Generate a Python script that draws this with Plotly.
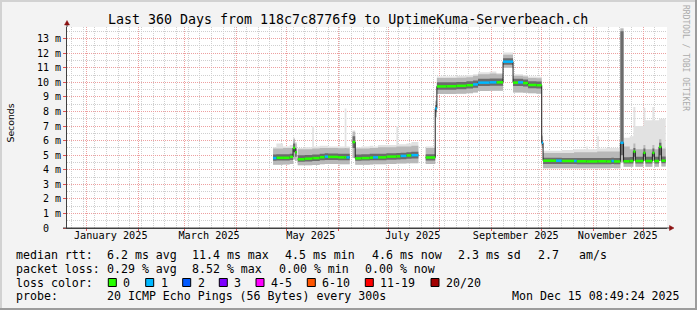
import plotly.graph_objects as go
import pandas as pd

# ---------------- data ----------------
# time of each sample, in days after 2025-01-01 00:00 ; None in median marks a gap / end
day_offset = [112.0, 114.0, 118.0, 122.0, 124.0, 125.2, 126.2, 126.8, 131.0, 135.5,
              136.5, 140.0, 143.0, 145.0, 151.0, 155.0, 156.0, 158.0, 159.7, 161.3,
              165.0, 170.0, 172.0, 175.0, 180.0, 186.0, 187.0, 188.5, 192.0, 195.0,
              199.2, 203.6, 209.3, 210.3, 216.0, 222.0, 228.0, 232.0, 235.0, 242.0,
              246.0, 250.0, 256.0, 259.0, 262.0, 265.0, 270.0, 273.2, 274.0, 281.8,
              285.2, 292.6, 294.2, 300.0, 301.0, 306.5, 307.5, 312.0, 315.0, 316.5,
              320.4, 322.3, 326.0, 328.2, 329.4, 334.2, 335.4, 339.6, 340.8, 343.6,
              345.0, 347.6]
median_ms = [4.80, 4.82, 4.82, 4.88, 5.50, 5.20, None, 4.72, 4.76, 4.80,
             4.80, 4.86, 4.90, 4.88, 4.85, 4.85, 4.85, None, 5.90, 4.78,
             4.80, 4.83, 4.85, 4.85, 4.90, 4.92, 4.92, 4.95, 4.98, 5.00,
             None, 4.84, 8.20, 9.72, 9.73, 9.76, 9.80, 9.86, 9.98, 10.00,
             10.00, 11.42, 9.98, 10.00, 9.95, 9.82, 9.80, 5.85, 4.62, 4.62,
             4.60, 4.60, 4.58, 4.57, 4.57, 4.58, 4.58, 4.57, 4.60, 4.57,
             5.85, 4.58, 4.60, 5.25, 4.60, 5.16, 4.60, 5.16, 4.60, 5.57,
             4.62, None]
loss_idx = [1, 0, 0, 0, 0, 0, 0, 0, 0, 0,
            0, 0, 1, 0, 0, 0, 1, 0, 0, 0,
            0, 0, 1, 0, 0, 0, 0, 1, 0, 1,
            0, 0, 1, 0, 0, 0, 0, 1, 1, 1,
            0, 1, 0, 1, 0, 0, 0, 1, 0, 1,
            0, 1, 0, 0, 0, 0, 0, 0, 1, 0,
            1, 0, 0, 0, 0, 0, 0, 0, 0, 0,
            0, 0]
smoke_lo = [4.35, 4.35, 4.36, 4.40, 4.70, 4.60, None, 4.30, 4.30, 4.33,
            4.33, 4.38, 4.40, 4.40, 4.38, 4.38, 4.38, None, 4.80, 4.35,
            4.35, 4.36, 4.38, 4.38, 4.40, 4.42, 4.42, 4.42, 4.45, 4.45,
            None, 4.40, 7.60, 9.20, 9.20, 9.22, 9.25, 9.30, 9.40, 9.42,
            9.42, 11.00, 9.30, 9.30, 9.28, 9.25, 9.22, 5.50, 4.10, 4.10,
            4.10, 4.10, 4.10, 4.10, 4.10, 4.10, 4.10, 4.10, 4.12, 4.10,
            4.50, 4.20, 4.20, 4.60, 4.20, 4.60, 4.20, 4.60, 4.20, 4.60,
            4.22, None]
smoke_q1 = [4.62, 4.63, 4.63, 4.67, 5.20, 4.90, None, 4.55, 4.57, 4.60,
            4.60, 4.65, 4.67, 4.67, 4.65, 4.65, 4.65, None, 5.50, 4.62,
            4.63, 4.65, 4.65, 4.65, 4.69, 4.71, 4.71, 4.72, 4.75, 4.77,
            None, 4.63, 7.95, 9.50, 9.50, 9.53, 9.57, 9.63, 9.75, 9.77,
            9.77, 11.20, 9.75, 9.75, 9.71, 9.60, 9.58, 5.70, 4.40, 4.40,
            4.39, 4.39, 4.38, 4.37, 4.37, 4.38, 4.38, 4.37, 4.39, 4.37,
            5.00, 4.42, 4.43, 4.90, 4.43, 4.90, 4.43, 4.90, 4.43, 5.00,
            4.45, None]
smoke_q3 = [5.05, 5.07, 5.07, 5.10, 5.80, 5.45, None, 5.00, 5.01, 5.05,
            5.05, 5.10, 5.13, 5.11, 5.09, 5.09, 5.09, None, 6.30, 5.05,
            5.07, 5.09, 5.10, 5.10, 5.13, 5.15, 5.15, 5.17, 5.20, 5.23,
            None, 5.07, 8.45, 10.00, 10.01, 10.03, 10.07, 10.13, 10.25, 10.27,
            10.27, 11.65, 10.25, 10.25, 10.20, 10.07, 10.05, 6.00, 4.83, 4.83,
            4.81, 4.81, 4.80, 4.80, 4.80, 4.81, 4.81, 4.80, 4.83, 4.80,
            13.50, 4.85, 4.87, 5.50, 4.90, 5.45, 4.90, 5.45, 4.90, 5.85,
            4.91, None]
smoke_hi = [5.45, 5.45, 5.50, 5.50, 6.10, 5.80, None, 5.40, 5.40, 5.45,
            5.45, 5.50, 5.50, 5.50, 5.48, 5.50, 5.48, None, 6.60, 5.45,
            5.45, 5.50, 5.50, 5.55, 5.55, 5.60, 5.60, 5.60, 5.60, 5.65,
            None, 5.50, 8.70, 10.30, 10.30, 10.32, 10.35, 10.45, 10.55, 10.60,
            10.55, 11.90, 10.45, 10.45, 10.40, 10.30, 10.28, 6.30, 5.15, 5.15,
            5.15, 5.20, 5.20, 5.20, 5.20, 5.25, 5.25, 5.25, 5.25, 5.25,
            13.70, 5.60, 5.40, 5.80, 5.40, 5.70, 5.40, 5.70, 5.40, 6.10,
            5.45, None]
smoke_top = [5.55, 5.80, 5.60, 5.70, 6.20, 5.90, None, 5.50, 5.55, 7.00,
             5.60, 5.65, 5.65, 5.60, 5.60, 8.20, 5.60, None, 6.70, 5.55,
             5.60, 5.65, 5.60, 5.70, 5.70, 7.00, 5.75, 5.75, 5.80, 5.90,
             None, 5.60, 8.80, 10.40, 10.40, 10.45, 10.50, 10.55, 10.70, 10.75,
             10.65, 12.05, 10.55, 10.55, 10.50, 10.40, 10.38, 6.40, 5.30, 5.30,
             5.35, 5.40, 5.40, 5.60, 5.40, 6.30, 5.45, 5.50, 5.50, 5.50,
             13.75, 6.20, 6.30, 8.30, 7.00, 8.25, 7.40, 8.30, 7.40, 7.50,
             7.50, None]

loss_labels = ["0", "1", "2", "3", "4-5", "6-10", "11-19", "20/20"]
loss_colors = ["#26ff00", "#00b8ff", "#0059ff", "#7e00ff", "#ff00ff", "#ff5500", "#ff0000", "#a10000"]

month_label_text = ["January 2025", "March 2025", "May 2025", "July 2025", "September 2025", "November 2025"]
month_label_day = [14.6, 73.6, 134.65, 195.8, 257.65, 318.8]

y_tick_vals = list(range(14))
y_tick_text = ["0\u00a0\u00a0"] + [f"{v} m" for v in range(1, 14)]

title_text = "Last 360 Days from 118c7c8776f9 to UptimeKuma-Serverbeach.ch"
rtt_stats = [("median rtt:", 16), ("6.2 ms avg", 107), ("11.4 ms max", 192.3), ("4.5 ms min", 285.3),
             ("4.6 ms now", 371.6), ("2.3 ms sd", 458), ("2.7", 538), ("am/s", 579)]
loss_stats = [("packet loss:", 16), ("0.29 % avg", 107), ("8.52 % max", 192.3),
              ("0.00 % min", 279), ("0.00 % now", 365)]
probe_text = "20 ICMP Echo Pings (56 Bytes) every 300s"
stamp_text = "Mon Dec 15 08:49:24 2025"

# ---------------- helpers ----------------
BASE = pd.Timestamp("2025-01-01")
X_END = pd.Timestamp("2025-12-15 08:49:24")
X_START = X_END - pd.Timedelta(days=360)


def ts(d):
    return BASE + pd.Timedelta(days=d)


W, H = 697, 310
ML, MR, MT, MB = 67, 30, 27, 82
PW, PH = W - ML - MR, H - MT - MB


def px(x):
    return (x - ML) / PW


def py(y):
    return (H - MB - y) / PH


MONO = "DejaVu Sans Mono"

fig = go.Figure()

# ---------------- smoke + median ----------------
segments = []
cur = []
for i, m in enumerate(median_ms):
    if m is None:
        if cur:
            segments.append((cur, day_offset[i]))
        cur = []
    else:
        cur.append(i)

bands = [(smoke_lo, smoke_top, "#e2e2e2"),
         (smoke_lo, smoke_hi, "#b8b8b8"),
         (smoke_q1, smoke_q3, "#6c6c6c")]

med_x, med_y = [], []
col_x = {k: [] for k in range(len(loss_colors))}
col_y = {k: [] for k in range(len(loss_colors))}

for idxs, t_end in segments:
    xs = [ts(day_offset[i]) for i in idxs] + [ts(t_end)]

    def vals(arr):
        return [arr[i] for i in idxs] + [arr[idxs[-1]]]

    for lo_arr, hi_arr, col in bands:
        fig.add_trace(go.Scatter(x=xs, y=vals(lo_arr), mode="lines",
                                 line=dict(width=0, shape="hv"), hoverinfo="skip", showlegend=False))
        fig.add_trace(go.Scatter(x=xs, y=vals(hi_arr), mode="lines", fill="tonexty", fillcolor=col,
                                 line=dict(width=0, shape="hv"), hoverinfo="skip", showlegend=False))
    med_x += xs + [None]
    med_y += vals(median_ms) + [None]
    for j, i in enumerate(idxs):
        t_next = day_offset[idxs[j + 1]] if j + 1 < len(idxs) else t_end
        k = loss_idx[i]
        col_x[k] += [ts(day_offset[i]), ts(t_next), None]
        col_y[k] += [median_ms[i], median_ms[i], None]

fig.add_trace(go.Scatter(x=med_x, y=med_y, mode="lines", line=dict(color="#202020", width=1, shape="hv"),
                         hoverinfo="skip", showlegend=False))
for k, col in enumerate(loss_colors):
    if col_x[k]:
        fig.add_trace(go.Scatter(x=col_x[k], y=col_y[k], mode="lines", line=dict(color=col, width=2.5),
                                 hoverinfo="skip", showlegend=False))

# empty trace so the label axis (x2) is drawn
fig.add_trace(go.Scatter(x=[X_START, X_END], y=[None, None], xaxis="x2", yaxis="y", mode="lines",
                         hoverinfo="skip", showlegend=False))

# ---------------- axes ----------------
RED = "#eda0a0"
GRAY = "#cfcfcf"
month_starts = pd.date_range("2025-01-01", "2025-12-01", freq="MS")
week_lines = pd.date_range("2024-12-23", "2025-12-15", freq="7D")

fig.update_layout(
    width=W, height=H, autosize=False,
    margin=dict(l=ML, r=MR, t=MT, b=MB, pad=0),
    paper_bgcolor="#f3f3f3", plot_bgcolor="#ffffff",
    showlegend=False, hovermode=False,
    font=dict(family=MONO, color="#000000", size=10),
    xaxis=dict(type="date", range=[X_START, X_END], tickmode="array", tickvals=month_starts,
               showticklabels=False, ticks="outside", ticklen=2, tickcolor="#e05050",
               showgrid=True, gridcolor=RED, griddash="1px,1px", gridwidth=1,
               minor=dict(tickmode="array", tickvals=week_lines, showgrid=True, gridcolor=GRAY,
                          griddash="1px,1px", ticks=""),
               showline=True, linecolor="#404040", linewidth=1, zeroline=False, fixedrange=True),
    xaxis2=dict(type="date", overlaying="x", anchor="y", side="bottom", range=[X_START, X_END],
                tickmode="array", tickvals=[ts(d) for d in month_label_day], ticktext=month_label_text,
                showgrid=False, ticks="", showline=False, zeroline=False, fixedrange=True,
                tickfont=dict(family=MONO, size=10.2, color="#000000")),
    yaxis=dict(range=[0, 13.8], tickmode="array", tickvals=y_tick_vals, ticktext=y_tick_text,
               showgrid=True, gridcolor=RED, griddash="1px,1px", gridwidth=1,
               minor=dict(tickmode="array", tickvals=[v + 0.5 for v in y_tick_vals], showgrid=True,
                          gridcolor=GRAY, griddash="1px,1px", ticks=""),
               ticks="outside", ticklen=3, tickcolor="#e05050",
               showline=True, linecolor="#404040", linewidth=1, zeroline=False,
               tickfont=dict(family=MONO, size=10, color="#000000"), fixedrange=True),
)

# ---------------- decorations ----------------
shapes = []
# frame
shapes.append(dict(type="rect", xref="paper", yref="paper", x0=px(0), x1=px(W), y0=py(0), y1=py(2),
                   fillcolor="#d2d2d2", line=dict(width=0)))
shapes.append(dict(type="rect", xref="paper", yref="paper", x0=px(0), x1=px(2), y0=py(0), y1=py(H),
                   fillcolor="#d2d2d2", line=dict(width=0)))
shapes.append(dict(type="rect", xref="paper", yref="paper", x0=px(0), x1=px(W), y0=py(H - 2), y1=py(H),
                   fillcolor="#9c9c9c", line=dict(width=0)))
shapes.append(dict(type="rect", xref="paper", yref="paper", x0=px(W - 2), x1=px(W), y0=py(0), y1=py(H),
                   fillcolor="#9c9c9c", line=dict(width=0)))
# axis arrows
shapes.append(dict(type="line", xref="paper", yref="paper", x0=px(67), x1=px(67), y0=py(27), y1=py(24),
                   line=dict(color="#404040", width=1)))
shapes.append(dict(type="path", xref="paper", yref="paper",
                   path=f"M {px(64.5)} {py(25)} L {px(69.5)} {py(25)} L {px(67)} {py(20.5)} Z",
                   fillcolor="#8b1010", line=dict(color="#8b1010", width=0.5)))
shapes.append(dict(type="line", xref="paper", yref="paper", x0=px(63), x1=px(670), y0=py(228), y1=py(228),
                   line=dict(color="#404040", width=1)))
shapes.append(dict(type="path", xref="paper", yref="paper",
                   path=f"M {px(669.5)} {py(225.5)} L {px(669.5)} {py(230.5)} L {px(674)} {py(228)} Z",
                   fillcolor="#8b1010", line=dict(color="#8b1010", width=0.5)))

annotations = []


def ann(text, x, y, size=11.6, xanchor="left", angle=0, color="#000000", family=MONO):
    annotations.append(dict(text=text, x=px(x), y=py(y), xref="paper", yref="paper", showarrow=False,
                            xanchor=xanchor, yanchor="middle", textangle=angle, borderpad=0,
                            font=dict(family=family, size=size, color=color)))


ann(title_text, 348, 19.5, size=13.3, xanchor="center")
ann("Seconds", 10, 123.5, size=9.3, xanchor="center", angle=-90, family="DejaVu Sans")
ann("RRDTOOL / TOBI OETIKER", 685.5, 57.5, size=8, xanchor="center", angle=90, color="#ababab")

for t, x in rtt_stats:
    ann(t, x - 1, 254.5)
for t, x in loss_stats:
    ann(t, x - 1, 268.5)
ann("loss color:", 15, 282.5)
box_x = [108.3, 145.7, 182.7, 219.3, 256, 307.3, 365.3, 431]
for bx, lab, col in zip(box_x, loss_labels, loss_colors):
    shapes.append(dict(type="rect", xref="paper", yref="paper", x0=px(bx), x1=px(bx + 8),
                       y0=py(286.5), y1=py(278.5), fillcolor=col, line=dict(color="#000000", width=1)))
    ann(lab, bx + 14, 282.5)
ann("probe:", 15, 296)
ann(probe_text, 106, 296)
ann(stamp_text, 681, 296, xanchor="right")

fig.update_layout(shapes=shapes, annotations=annotations)

fig.write_html("out.html")
